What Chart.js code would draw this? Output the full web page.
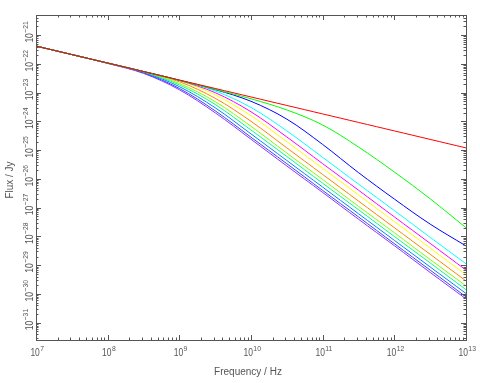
<!DOCTYPE html>
<html>
<head>
<meta charset="utf-8">
<script src="https://cdn.jsdelivr.net/npm/chart.js@4.4.1/dist/chart.umd.min.js"></script>
<style>
  body { margin: 0; background: #fff; }
  canvas { display: block; }
</style>
</head>
<body>
<canvas id="sed" width="480" height="383"></canvas>
<script>
// frequency grid (Hz)
var freqHz = [1e7, 3.16e7, 1e8, 3.16e8, 1e9, 3.16e9, 1e10, 3.16e10, 1e11, 3.16e11, 1e12, 3.16e12, 1e13];

// flux (Jy) per curve
var fluxRed        = [4.17e-22, 2.11e-22, 1.07e-22, 5.43e-23, 2.75e-23, 1.40e-23, 7.08e-24, 3.59e-24, 1.82e-24, 9.23e-25, 4.68e-25, 2.37e-25, 1.20e-25];
var fluxGreen      = [4.17e-22, 2.11e-22, 1.07e-22, 5.43e-23, 2.70e-23, 1.30e-23, 6.10e-24, 2.51e-24, 7.50e-25, 1.29e-25, 1.74e-26, 2.04e-27, 2.00e-28];
var fluxBlue       = [4.17e-22, 2.11e-22, 1.07e-22, 5.43e-23, 2.70e-23, 1.28e-23, 5.00e-24, 1.20e-24, 1.58e-25, 1.66e-26, 2.00e-27, 2.69e-28, 4.68e-29];
var fluxCyan       = [4.17e-22, 2.11e-22, 1.07e-22, 5.43e-23, 2.70e-23, 1.15e-23, 3.05e-24, 4.68e-25, 5.62e-26, 6.61e-27, 7.94e-28, 9.33e-29, 1.12e-29];
var fluxMagenta    = [4.17e-22, 2.11e-22, 1.07e-22, 5.43e-23, 2.65e-23, 1.00e-23, 2.16e-24, 2.88e-25, 3.39e-26, 4.07e-27, 4.79e-28, 5.75e-29, 6.76e-30];
var fluxYellow     = [4.17e-22, 2.11e-22, 1.07e-22, 5.43e-23, 2.60e-23, 8.41e-24, 1.58e-24, 1.97e-25, 2.34e-26, 2.79e-27, 3.31e-28, 3.94e-29, 4.68e-30];
var fluxOrange     = [4.17e-22, 2.11e-22, 1.07e-22, 5.40e-23, 2.40e-23, 6.38e-24, 1.01e-24, 1.20e-25, 1.43e-26, 1.70e-27, 2.02e-28, 2.40e-29, 2.85e-30];
var fluxChartreuse = [4.17e-22, 2.11e-22, 1.07e-22, 5.35e-23, 2.09e-23, 4.90e-24, 6.76e-25, 7.94e-26, 9.55e-27, 1.12e-27, 1.35e-28, 1.58e-29, 1.91e-30];
var fluxSpring     = [4.17e-22, 2.11e-22, 1.07e-22, 5.30e-23, 1.86e-23, 3.89e-24, 5.01e-25, 6.03e-26, 7.08e-27, 8.51e-28, 1.00e-28, 1.20e-29, 1.41e-30];
var fluxAzure      = [4.17e-22, 2.11e-22, 1.06e-22, 5.13e-23, 1.62e-23, 2.99e-24, 3.67e-25, 4.37e-26, 5.19e-27, 6.17e-28, 7.33e-29, 8.71e-30, 1.04e-30];
var fluxViolet     = [4.17e-22, 2.11e-22, 1.05e-22, 4.90e-23, 1.40e-23, 2.34e-24, 2.82e-25, 3.39e-26, 3.98e-27, 4.79e-28, 5.62e-29, 6.76e-30, 7.94e-31];
var fluxPurple     = [4.17e-22, 2.11e-22, 1.04e-22, 4.68e-23, 1.26e-23, 2.00e-24, 2.40e-25, 2.82e-26, 3.39e-27, 3.98e-28, 4.79e-29, 5.62e-30, 6.76e-31];

var curves = [fluxRed, fluxGreen, fluxBlue, fluxCyan, fluxMagenta, fluxYellow, fluxOrange,
              fluxChartreuse, fluxSpring, fluxAzure, fluxViolet, fluxPurple];
var curveColors = ['#ff0000', '#00ff00', '#0000ff', '#00ffff', '#ff00ff', '#ffff00', '#ff8000',
                   '#80ff00', '#00ff80', '#0080ff', '#4040ff', '#9030ff'];

// decade tick labels (exponents)
var xTickExp = [7, 8, 9, 10, 11, 12, 13];
var yTickExp = [-31, -30, -29, -28, -27, -26, -25, -24, -23, -22, -21];

var ink = '#555';
var fontName = '"Liberation Sans", sans-serif';

function pow10Label(ctx, x, y, exp) {
  // "10" with a superscript exponent, centred on x, baseline y, squeezed a bit
  var base = '10', sup = String(exp).replace('-', '\u2212');
  var sx = 0.85;
  ctx.font = '10px ' + fontName;
  var w1 = ctx.measureText(base).width;
  ctx.font = '8px ' + fontName;
  var w2 = ctx.measureText(sup).width;
  ctx.save();
  ctx.translate(x - (w1 + w2) * sx / 2, y);
  ctx.scale(sx, 1);
  ctx.font = '10px ' + fontName;
  ctx.fillText(base, 0, 0);
  ctx.font = '8px ' + fontName;
  ctx.fillText(sup, w1 + 0.5, -5);
  ctx.restore();
}

var framePlugin = {
  id: 'frame',
  afterDraw: function(chart) {
    var ctx = chart.ctx, a = chart.chartArea, xs = chart.scales.x, ys = chart.scales.y;
    ctx.save();
    ctx.strokeStyle = ink;
    ctx.lineWidth = 1;
    ctx.strokeRect(Math.round(a.left) + 0.5, Math.round(a.top) + 0.5,
                   Math.round(a.right - a.left), Math.round(a.bottom - a.top));

    ctx.beginPath();
    // x ticks, bottom and top
    for (var d = xTickExp[0]; d <= xTickExp[xTickExp.length - 1]; d++) {
      for (var m = 1; m <= 9; m++) {
        var v = m * Math.pow(10, d);
        if (v > xs.max * 1.0001) break;
        var px = Math.round(xs.getPixelForValue(v)) + 0.5;
        var len = m === 1 ? 5 : 2.5;
        ctx.moveTo(px, a.bottom); ctx.lineTo(px, a.bottom - len);
        ctx.moveTo(px, a.top); ctx.lineTo(px, a.top + len);
      }
    }
    // y ticks, left and right
    for (var e = yTickExp[0] - 1; e <= yTickExp[yTickExp.length - 1]; e++) {
      for (var k = 1; k <= 9; k++) {
        var val = k * Math.pow(10, e);
        if (val < ys.min || val > ys.max) continue;
        var py = Math.round(ys.getPixelForValue(val)) + 0.5;
        var l = k === 1 ? 5 : 2.5;
        ctx.moveTo(a.left, py); ctx.lineTo(a.left + l, py);
        ctx.moveTo(a.right, py); ctx.lineTo(a.right - l, py);
      }
    }
    ctx.stroke();

    ctx.fillStyle = ink;
    ctx.textBaseline = 'alphabetic';
    ctx.textAlign = 'left';
    // x labels
    xTickExp.forEach(function(ex) {
      pow10Label(ctx, xs.getPixelForValue(Math.pow(10, ex)) + 1, 356, ex);
    });
    // y labels, rotated
    yTickExp.forEach(function(ex) {
      var py = ys.getPixelForValue(Math.pow(10, ex));
      ctx.save();
      ctx.translate(33, py);
      ctx.rotate(-Math.PI / 2);
      pow10Label(ctx, 3, 0, ex);
      ctx.restore();
    });

    // axis titles
    ctx.font = '10px ' + fontName;
    ctx.textAlign = 'center';
    ctx.fillText('Frequency / Hz', 248, 375);
    ctx.save();
    ctx.translate(13, 180);
    ctx.rotate(-Math.PI / 2);
    ctx.fillText('Flux / Jy', 0, 0);
    ctx.restore();
    ctx.restore();
  }
};

var datasets = curves.map(function(c, i) {
  return {
    data: c.map(function(f, j) { return { x: freqHz[j], y: f }; }),
    borderColor: curveColors[i],
    borderWidth: 1,
    pointRadius: 0,
    fill: false,
    tension: 0.35
  };
});

new Chart(document.getElementById('sed'), {
  type: 'line',
  data: { datasets: datasets },
  options: {
    responsive: false,
    animation: false,
    devicePixelRatio: 1,
    layout: { padding: { left: 36, right: 14, top: 15, bottom: 43 } },
    plugins: { legend: { display: false }, tooltip: { enabled: false } },
    scales: {
      x: {
        type: 'logarithmic',
        min: 1e7, max: 1e13,
        ticks: { display: false },
        grid: { display: false, drawTicks: false },
        border: { display: false }
      },
      y: {
        type: 'logarithmic',
        min: 2.51e-32, max: 5.01e-21,
        ticks: { display: false },
        grid: { display: false, drawTicks: false },
        border: { display: false }
      }
    }
  },
  plugins: [framePlugin]
});
</script>
</body>
</html>
